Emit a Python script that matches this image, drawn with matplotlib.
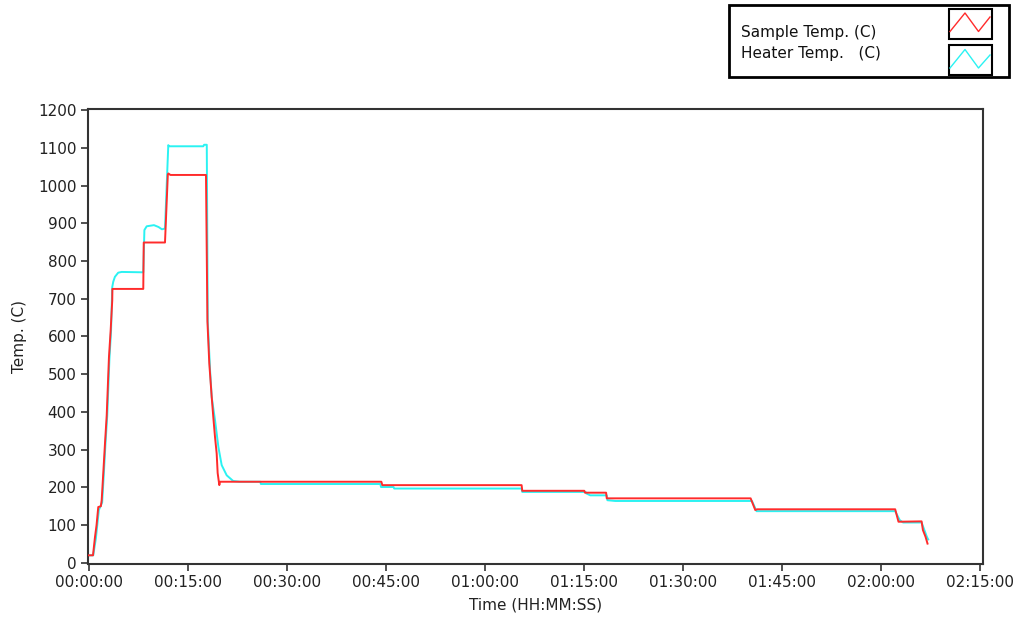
import numpy as np
import matplotlib
matplotlib.use("Agg")
import matplotlib.pyplot as plt
from matplotlib.patches import Rectangle
from matplotlib.lines import Line2D
from matplotlib.ticker import FuncFormatter, MultipleLocator

# furnace log, time in minutes from start
sample_t = [-0.15, 0.56, 0.86, 1.1, 1.36, 1.75, 1.88, 2.12, 2.38, 2.64, 2.98, 3.24, 3.48, 3.5,
            8.18, 8.25, 11.47, 11.9, 11.97, 12.3, 17.68, 17.9, 18.18, 18.55, 18.79, 19.05,
            19.3, 19.45, 19.7, 19.8, 44.25, 44.4, 65.5, 65.6, 75.0, 75.1, 78.3, 78.4,
            100.2, 100.9, 101.2, 122.1, 122.6, 126.1, 126.3, 126.7, 127.0]
sample_temp = [20, 20, 68, 100, 148, 150, 166, 238, 317, 391, 545, 617, 696, 726,
               726, 849, 849, 1029, 1032, 1028, 1028, 640, 529, 439, 386, 333,
               290, 238, 206, 215, 215, 206, 206, 191, 191, 186, 186, 171,
               171, 140, 142, 142, 109, 110, 87, 69, 51]

heater_t = [-0.15, 0.6, 1.0, 1.45, 1.95, 2.2, 2.45, 2.72, 3.05, 3.3, 3.48, 3.63, 3.88, 4.38,
            4.9, 8.18, 8.35, 8.7, 9.8, 10.5, 11.0, 11.47, 11.97, 12.1, 17.27, 17.4, 17.8,
            17.95, 18.3, 18.55, 19.05, 19.56, 20.06, 20.82, 21.8, 22.8, 25.9, 26.0, 44.1,
            44.2, 46.1, 46.2, 65.5, 65.6, 75.2, 75.3, 75.9, 78.4, 78.5, 79.7, 100.4, 101.1,
            122.1, 122.8, 123.3, 126.1, 126.9, 127.1]
heater_temp = [20, 20, 65, 140, 160, 235, 315, 390, 540, 615, 731, 745, 758, 769,
               771, 770, 882, 892, 895, 890, 884, 886, 1107, 1104, 1104, 1108, 1108,
               640, 510, 439, 378, 307, 259, 232, 217, 215, 215, 209, 209,
               201, 201, 197, 197, 188, 188, 184, 179, 179, 166, 164, 164, 137,
               137, 113, 107, 107, 69, 62]

x_ticks = np.arange(0, 136, 15)
y_ticks = np.arange(0, 1201, 100)

RED = "#ff2b2b"
CYAN = "#2af2f2"
AXIS = "#333333"
W, H = 1018, 627


def hhmmss(v, pos):
    m = int(round(v))
    return f"{m // 60:02d}:{m % 60:02d}:00"


def px(x, y):
    # pixel position -> figure fraction
    return x / W, 1 - y / H


def main():
    fig = plt.figure(figsize=(W / 100, H / 100), dpi=100)
    ax = fig.add_axes([87.7 / W, 1 - 564 / H, (983.3 - 87.7) / W, (564 - 109.3) / H])

    ax.plot(heater_t, heater_temp, color=CYAN, lw=1.4, zorder=2)
    ax.plot(sample_t, sample_temp, color=RED, lw=1.4, zorder=3)

    ax.set_xlim(-0.24, 135.45)
    ax.set_ylim(-3, 1202)
    ax.set_xticks(x_ticks)
    ax.set_yticks(y_ticks)
    ax.xaxis.set_major_formatter(FuncFormatter(hhmmss))
    ax.tick_params(direction="out", length=5, width=1.2, color=AXIS,
                   labelsize=11, labelcolor="#222222", pad=3)
    for s in ax.spines.values():
        s.set_color(AXIS)
        s.set_linewidth(1.5)

    ax.set_xlabel("Time (HH:MM:SS)", fontsize=11, color="#222222", labelpad=5)
    ax.set_ylabel("Temp. (C)", fontsize=11, color="#222222", labelpad=8)

    # legend box drawn above the plot, top right
    x0, y0 = px(728.5, 77)
    x1, y1 = px(1009, 5)
    fig.add_artist(Rectangle((x0, y0), x1 - x0, y1 - y0, transform=fig.transFigure,
                             fill=False, ec="black", lw=2))
    for top, bot in [(8.5, 38.5), (44.5, 75)]:
        bx0, by0 = px(948.5, bot)
        bx1, by1 = px(991.5, top)
        fig.add_artist(Rectangle((bx0, by0), bx1 - bx0, by1 - by0, transform=fig.transFigure,
                                 fill=False, ec="black", lw=1.5))

    zig_x = [950, 965, 978.5, 990]
    for zig_y, col in [([31.5, 13, 31.5, 17], RED), ([68, 49.5, 68, 55], CYAN)]:
        pts = [px(a, b) for a, b in zip(zig_x, zig_y)]
        fig.add_artist(Line2D([p[0] for p in pts], [p[1] for p in pts],
                              transform=fig.transFigure, color=col, lw=1))

    tx, ty = px(741, 33)
    fig.text(tx, ty, "Sample Temp. (C)", fontsize=11, color="#111111", va="center")
    tx, ty = px(741, 53.5)
    fig.text(tx, ty, "Heater Temp.   (C)", fontsize=11, color="#111111", va="center")

    fig.savefig("out.png", dpi=100)


if __name__ == "__main__":
    main()
